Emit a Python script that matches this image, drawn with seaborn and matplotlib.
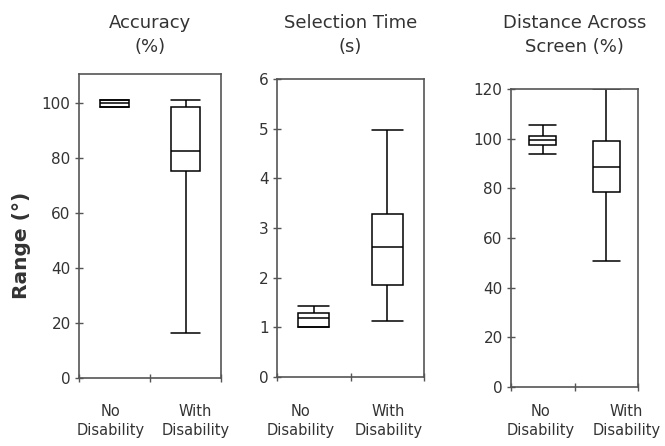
import matplotlib
matplotlib.use("Agg")
import matplotlib.pyplot as plt
import matplotlib.transforms as mtransforms
import seaborn as sns
import pandas as pd

sns.set_theme(style="white")
plt.rcParams['font.family'] = ['DejaVu Sans']

groups = ["No\nDisability", "With\nDisability"]
titles = ["Accuracy\n(%)", "Selection Time\n(s)", "Distance Across\nScreen (%)"]

# five-number summaries: min, q1, median, q3, max
accuracy_no = [98.5, 98.5, 99.8, 101.0, 101.0]
accuracy_with = [16.5, 75.3, 82.5, 98.3, 101.0]
time_no = [1.0, 1.01, 1.18, 1.28, 1.43]
time_with = [1.13, 1.86, 2.61, 3.29, 4.97]
distance_no = [93.7, 97.5, 99.5, 101.0, 105.5]
distance_with = [50.7, 78.7, 88.5, 99.2, 120.0]

panels = [
    (accuracy_no, accuracy_with, (0, 110.4), [0, 20, 40, 60, 80, 100]),
    (time_no, time_with, (0, 6), [0, 1, 2, 3, 4, 5, 6]),
    (distance_no, distance_with, (0, 120), [0, 20, 40, 60, 80, 100, 120]),
]

W, H = 665, 446
rects = [
    (79, 74, 221, 378),
    (277, 79, 424, 377),
    (511, 89, 638, 387),
]
# horizontal nudges (pixels) of the category labels, as laid out in the reference
label_shift = [(-4, 10), (-13, 1), (-2, 20)]

fig = plt.figure(figsize=(W / 100, H / 100), dpi=100)
spine_col = "#555555"
text_col = "#333333"
for i, ((no, wi, ylim, yt), (l, t, r, b)) in enumerate(zip(panels, rects)):
    ax = fig.add_axes([l / W, 1 - b / H, (r - l) / W, (b - t) / H])
    df = pd.DataFrame({"group": [groups[0]] * len(no) + [groups[1]] * len(wi),
                       "value": no + wi})
    sns.boxplot(data=df, x="group", y="value", ax=ax, whis=(0, 100), width=0.42,
                color="white", linecolor="black", linewidth=1.1,
                showfliers=False)
    # caps as wide as boxes
    for line in ax.lines:
        xd = line.get_xdata()
        yd = line.get_ydata()
        if len(xd) == 2 and xd[0] != xd[1] and yd[0] == yd[1]:
            c = (xd[0] + xd[1]) / 2
            line.set_xdata([c - 0.21, c + 0.21])
    ax.set_xlim(-0.5, 1.5)
    ax.set_ylim(*ylim)
    ax.set_yticks(yt)
    ax.set_xlabel("")
    ax.set_ylabel("")
    ax.set_xticks([0, 1])
    ax.set_xticklabels(groups, linespacing=1.35)
    ax.set_xticks([-0.5, 0.5, 1.5], minor=True)
    pad_px = 404 - b
    ax.tick_params(axis="x", which="major", bottom=True, length=0, pad=pad_px * 0.72,
                   labelsize=10.5, labelcolor=text_col)
    ax.tick_params(axis="x", which="minor", bottom=True, length=6, direction="inout",
                   color=spine_col, width=1.0)
    ax.tick_params(axis="y", left=True, length=6, direction="inout", color=spine_col,
                   width=1.0, labelsize=11, labelcolor=text_col, pad=3)
    for lab, dx in zip(ax.get_xticklabels(), label_shift[i]):
        off = mtransforms.ScaledTranslation(dx / 100, 0, fig.dpi_scale_trans)
        lab.set_transform(lab.get_transform() + off)
    for s in ax.spines.values():
        s.set_visible(True)
        s.set_color(spine_col)
        s.set_linewidth(1.2)
    cx = (l + r) / 2 / W
    fig.text(cx, 1 - 35 / H, titles[i], ha="center", va="center", fontsize=13,
             color=text_col, linespacing=1.45)
    if i == 0:
        ax.set_ylabel("Range (°)", fontsize=14.5, fontweight="bold",
                      color=text_col)
        ax.yaxis.set_label_coords((31 - l) / (r - l), (b - 245) / (b - t))

fig.savefig("out.png", dpi=100)
